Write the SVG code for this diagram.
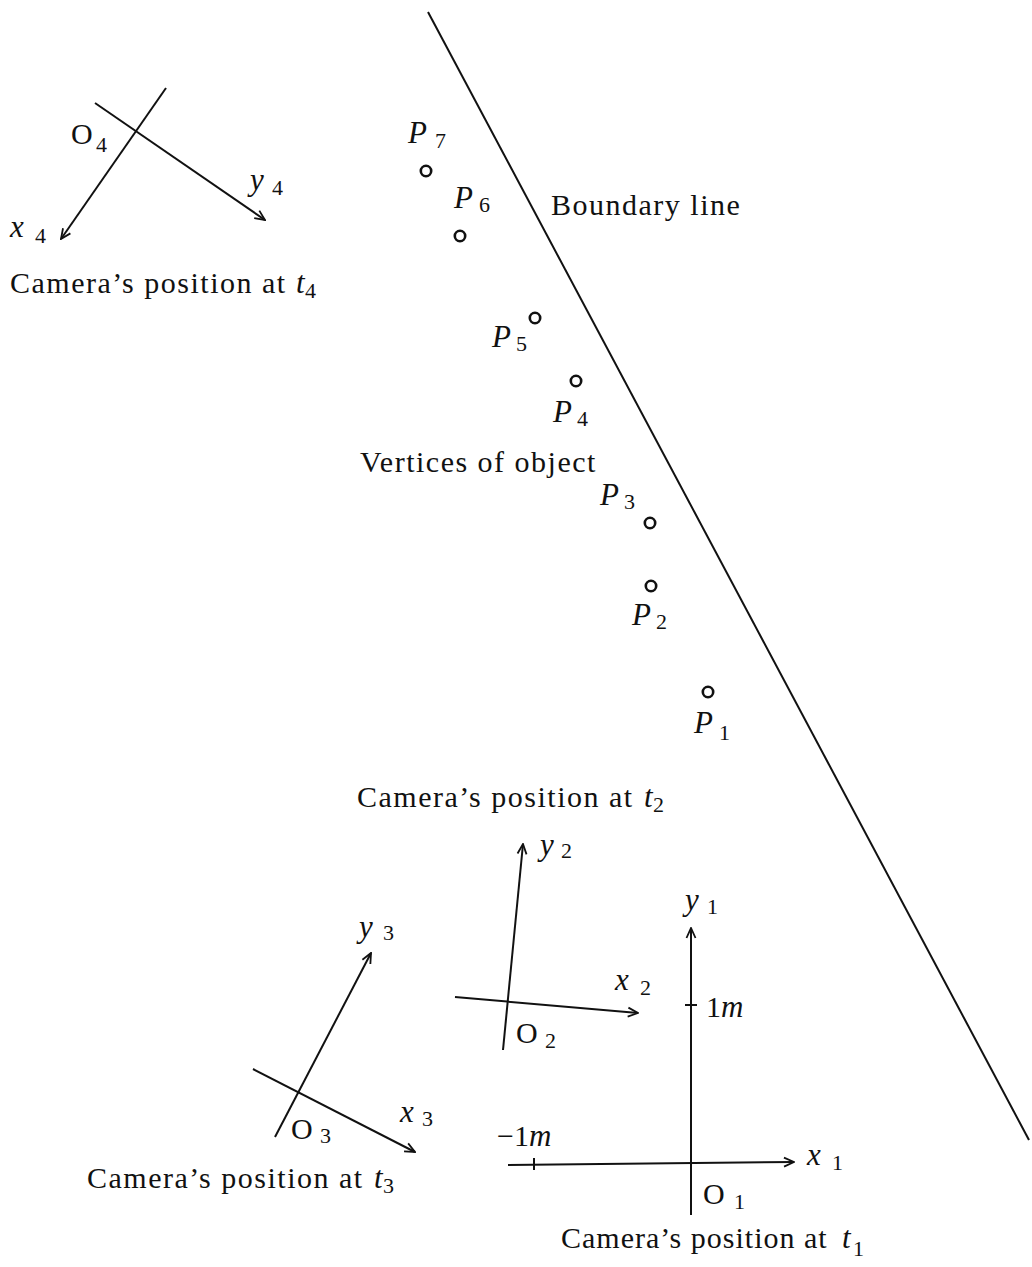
<svg xmlns="http://www.w3.org/2000/svg" width="1032" height="1267" viewBox="0 0 1032 1267">
<style>
.ln{stroke:#111;stroke-width:2;fill:none}
.ax{stroke:#111;stroke-width:2;fill:none;marker-end:url(#ar)}
.t{font-family:"Liberation Serif",serif;font-size:30px;fill:#111;letter-spacing:1.5px}
.i{font-family:"Liberation Serif",serif;font-style:italic;font-size:31px;fill:#111}
.o{font-family:"Liberation Serif",serif;font-size:30px;fill:#111}
.s{font-family:"Liberation Serif",serif;font-size:22px;fill:#111}
.pt{stroke:#111;stroke-width:2.6;fill:none}
</style>
<defs>
<marker id="ar" viewBox="0 0 12 12" refX="11" refY="6" markerWidth="12" markerHeight="12" markerUnits="userSpaceOnUse" orient="auto">
<path d="M1,1.5 L11,6 L1,10.5" fill="none" stroke="#111" stroke-width="1.8"/>
</marker>
</defs>
<rect width="1032" height="1267" fill="#fff"/>
<g id="connectors">
<line class="ln" x1="428" y1="12" x2="1029" y2="1140"/>
<line class="ax" x1="166" y1="88" x2="61" y2="239"/>
<line class="ax" x1="95" y1="103" x2="265" y2="220"/>
<line class="ax" x1="503" y1="1050" x2="523" y2="844"/>
<line class="ax" x1="455" y1="997" x2="638" y2="1013"/>
<line class="ax" x1="275" y1="1137" x2="371" y2="953"/>
<line class="ax" x1="253" y1="1069" x2="415" y2="1152"/>
<line class="ax" x1="691" y1="1215" x2="691" y2="928"/>
<line class="ax" x1="508" y1="1165" x2="794" y2="1162"/>
<line class="ln" x1="685" y1="1005" x2="697" y2="1005" stroke-width="1.5"/>
<line class="ln" x1="534" y1="1158" x2="534" y2="1170" stroke-width="1.5"/>
</g>
<g id="camera4">
<text class="o" x="71" y="144">O</text><text class="s" x="96" y="152">4</text>
<text class="i" x="250" y="190">y</text><text class="s" x="272" y="195">4</text>
<text class="i" x="10" y="237">x</text><text class="s" x="35" y="243">4</text>
<text class="t" x="10" y="293">Camera’s position at</text><text class="i" x="296" y="293">t</text><text class="s" x="305" y="298">4</text>
</g>
<g id="boundary">
<text class="t" x="551" y="215">Boundary line</text>
</g>
<g id="vertices">
<circle class="pt" cx="426" cy="171" r="5.2"/>
<text class="i" x="408" y="143">P</text><text class="s" x="435" y="148">7</text>
<circle class="pt" cx="460" cy="236" r="5.2"/>
<text class="i" x="454" y="208">P</text><text class="s" x="479" y="212">6</text>
<circle class="pt" cx="535" cy="318" r="5.2"/>
<text class="i" x="492" y="347">P</text><text class="s" x="516" y="351">5</text>
<circle class="pt" cx="576" cy="381" r="5.2"/>
<text class="i" x="553" y="422">P</text><text class="s" x="577" y="426">4</text>
<circle class="pt" cx="650" cy="523" r="5.2"/>
<text class="i" x="600" y="505">P</text><text class="s" x="624" y="509">3</text>
<circle class="pt" cx="651" cy="586" r="5.2"/>
<text class="i" x="632" y="625">P</text><text class="s" x="656" y="629">2</text>
<circle class="pt" cx="708" cy="692" r="5.2"/>
<text class="i" x="694" y="733">P</text><text class="s" x="719" y="740">1</text>
<text class="t" x="360" y="472">Vertices of object</text>
</g>
<g id="camera2">
<text class="t" x="357" y="807">Camera’s position at</text><text class="i" x="644" y="807">t</text><text class="s" x="653" y="812">2</text>
<text class="i" x="540" y="855">y</text><text class="s" x="561" y="858">2</text>
<text class="i" x="615" y="990">x</text><text class="s" x="640" y="995">2</text>
<text class="o" x="516" y="1043">O</text><text class="s" x="545" y="1048">2</text>
</g>
<g id="camera3">
<text class="i" x="359" y="937">y</text><text class="s" x="383" y="940">3</text>
<text class="i" x="400" y="1122">x</text><text class="s" x="422" y="1126">3</text>
<text class="o" x="291" y="1139">O</text><text class="s" x="320" y="1143">3</text>
<text class="t" x="87" y="1188">Camera’s position at</text><text class="i" x="374" y="1188">t</text><text class="s" x="383" y="1193">3</text>
</g>
<g id="camera1">
<text class="i" x="685" y="910">y</text><text class="s" x="707" y="914">1</text>
<text class="o" x="706" y="1017">1<tspan class="i">m</tspan></text>
<text class="o" x="497" y="1146">−1<tspan class="i">m</tspan></text>
<text class="i" x="807" y="1165">x</text><text class="s" x="832" y="1170">1</text>
<text class="o" x="703" y="1204">O</text><text class="s" x="734" y="1209">1</text>
<text class="t" x="561" y="1248" style="letter-spacing:1px">Camera’s position at</text><text class="i" x="842" y="1248">t</text><text class="s" x="853" y="1256">1</text>
</g>
</svg>
